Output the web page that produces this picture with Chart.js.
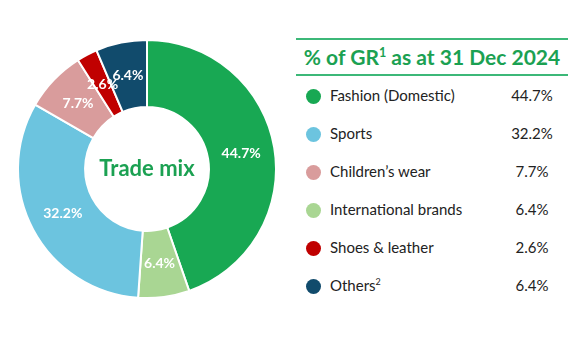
<!DOCTYPE html>
<html>
<head>
<meta charset="utf-8">
<script src="https://cdn.jsdelivr.net/npm/chart.js@4/dist/chart.umd.min.js"></script>
<style>
  body { margin: 0; background: #fff; font-family: Lato, "Open Sans", sans-serif; }
  #wrap { position: relative; width: 583px; height: 342px; }
  #chartBox { position: absolute; left: 17px; top: 39px; width: 260px; height: 260px; }
  #panel { position: absolute; left: 296px; top: 38px; width: 272px; }
  #title { border-top: 2px solid #3cb878; border-bottom: 2px solid #3cb878; color: #1ba152;
           font-weight: bold; font-size: 21px; text-align: center; height: 34px; line-height: 34px; }
  #title sup, .row sup { font-size: 0.6em; line-height: 0; }
  .row { position: relative; height: 38px; font-size: 15px; color: #222; }
  .dot { position: absolute; left: 10px; top: 12px; width: 15px; height: 15px; border-radius: 50%; }
  .lbl { position: absolute; left: 34px; top: 9px; }
  .val { position: absolute; left: 206px; width: 60px; text-align: center; top: 9px; }
</style>
</head>
<body>
<div id="wrap">
  <div id="chartBox"><canvas id="doughnutChart"></canvas></div>
  <div id="panel">
    <div id="title">% of GR<sup>1</sup> as at 31 Dec 2024</div>
    <div id="legend" style="padding-top:1px"></div>
  </div>
</div>
<script>
// slice order as drawn (clockwise from top)
var sliceLabels = ["Fashion (Domestic)", "International brands", "Sports", "Children\u2019s wear", "Shoes & leather", "Others"];
var sliceValues = [44.7, 6.4, 32.2, 7.7, 2.6, 6.4];
var sliceColors = ["#18a853", "#a9d693", "#6cc4df", "#d99c9c", "#c00000", "#114b6c"];

// legend order
var legendOrder = [0, 2, 3, 1, 4, 5];
var legendNames = ["Fashion (Domestic)", "Sports", "Children\u2019s wear", "International brands", "Shoes & leather", "Others<sup>2</sup>"];

var legendHtml = "";
legendOrder.forEach(function (idx, i) {
    legendHtml += '<div class="row"><span class="dot" style="background:' + sliceColors[idx] + '"></span>' +
        '<span class="lbl">' + legendNames[i] + '</span>' +
        '<span class="val">' + sliceValues[idx].toFixed(1) + '%</span></div>';
});
document.getElementById("legend").innerHTML = legendHtml;

// labels on slices + centre text
var sliceText = {
    id: "sliceText",
    afterDatasetsDraw: function (chart) {
        var ctx = chart.ctx;
        var meta = chart.getDatasetMeta(0);
        ctx.save();
        ctx.textAlign = "center";
        ctx.textBaseline = "middle";
        ctx.font = "bold 14px Lato, 'Open Sans', sans-serif";
        ctx.fillStyle = "#ffffff";
        meta.data.forEach(function (arc, i) {
            var p = arc.tooltipPosition();
            ctx.fillText(sliceValues[i].toFixed(1) + "%", p.x, p.y);
        });
        var c = meta.data[0];
        ctx.font = "bold 22px Lato, 'Open Sans', sans-serif";
        ctx.fillStyle = "#1ba152";
        ctx.fillText("Trade mix", c.x, c.y);
        ctx.restore();
    }
};

var doughnutData = {
    labels: sliceLabels,
    datasets: [{
        data: sliceValues,
        backgroundColor: sliceColors,
        borderColor: "#ffffff",
        borderWidth: 2
    }]
};

var doughnutOptions = {
    responsive: true,
    maintainAspectRatio: false,
    animation: false,
    cutout: "48%",
    layout: { padding: 0 },
    plugins: {
        legend: { display: false },
        tooltip: { enabled: false }
    }
};

var ctx4 = document.getElementById("doughnutChart").getContext("2d");
new Chart(ctx4, { type: "doughnut", data: doughnutData, options: doughnutOptions, plugins: [sliceText] });
</script>
</body>
</html>
